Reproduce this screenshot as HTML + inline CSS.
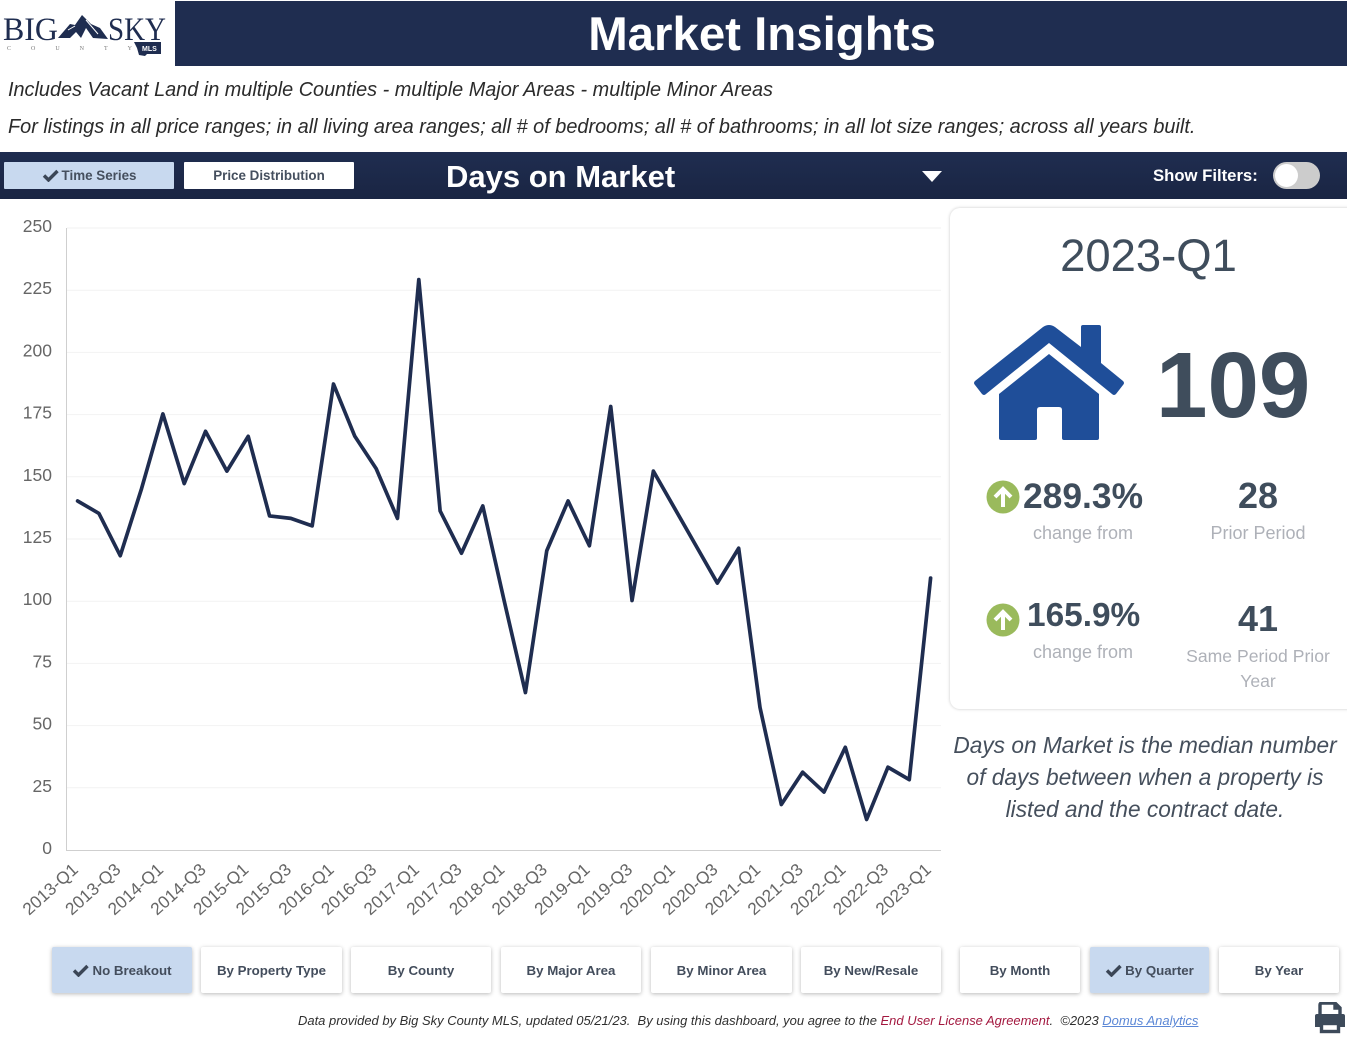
<!DOCTYPE html>
<html lang="en">
<head>
<meta charset="utf-8">
<title>Market Insights</title>
<style>
html,body{margin:0;padding:0;background:#fff;}
body{width:1347px;height:1041px;position:relative;overflow:hidden;font-family:"Liberation Sans",sans-serif;}
.a{position:absolute;white-space:nowrap;}
.btn{position:absolute;top:947px;height:46px;background:#fff;box-shadow:0 1px 4px rgba(0,0,0,.28);border-radius:2px;color:#434d5c;font-size:13.3px;font-weight:bold;line-height:47px;text-align:center;white-space:nowrap;}
.btn.on{background:#c8d9ef;}
.tab{position:absolute;top:162px;height:27px;border-radius:1px;color:#454f5e;font-size:13.4px;font-weight:bold;line-height:28px;text-align:center;}
.c{text-align:center;}
.chk{display:inline-block;vertical-align:-2px;margin-right:3px;}
</style>
</head>
<body>

<div class="a" style="left:175px;top:1px;width:1172px;height:65px;background:#1f2d50;"></div>
<div class="a c" style="left:175px;top:6px;width:1174px;color:#fff;font-size:47.4px;font-weight:bold;line-height:58px;">Market Insights</div>

<svg class="a" style="left:0;top:0" width="175" height="66" viewBox="0 0 175 66">
  <text x="3" y="40" font-family="Liberation Serif" font-size="33" fill="#1f2d50" textLength="55" lengthAdjust="spacingAndGlyphs">BIG</text>
  <text x="108" y="40" font-family="Liberation Serif" font-size="33" fill="#1f2d50" textLength="58" lengthAdjust="spacingAndGlyphs">SKY</text>
  <polygon points="58,38 70,24 75,25 82,15 91,24 100,28 108,39 93,38 86,28 81,38 76,32 70,38" fill="#1f2d50"/>
  <path d="M86,20L98,34M68,30L75,26" stroke="#fff" stroke-width="1" fill="none"/>
  <text x="7" y="50" font-family="Liberation Serif" font-size="6" fill="#777" letter-spacing="20">COUNTY</text>
  <polygon points="134,42 161,42 161,54 147,54 145,56 139,55 137,48" fill="#1f2d50"/>
  <text x="142" y="51" font-family="Liberation Sans" font-size="7" font-weight="bold" fill="#fff">MLS</text>
</svg>

<div class="a" style="left:8px;top:77px;font-size:19.88px;font-style:italic;color:#2b2b2b;line-height:26px;">Includes Vacant Land in multiple Counties - multiple Major Areas - multiple Minor Areas</div>
<div class="a" style="left:8px;top:114px;font-size:19.9px;font-style:italic;color:#2b2b2b;line-height:26px;">For listings in all price ranges; in all living area ranges; all # of bedrooms; all # of bathrooms; in all lot size ranges; across all years built.</div>

<div class="a" style="left:0;top:152px;width:1347px;height:47px;background:linear-gradient(#1f2d50,#1a2543);"></div>
<div class="tab" style="left:4px;width:170px;background:#c8d9ef;"><svg class="chk" width="17" height="13" viewBox="0 0 17 13"><path d="M2 6.5L6.5 11L15.5 2" fill="none" stroke="#3b4656" stroke-width="3.4"/></svg>Time Series</div>
<div class="tab" style="left:184px;width:170px;background:#fff;">Price Distribution</div>
<div class="a" style="left:446px;top:158px;color:#fff;font-size:31px;font-weight:bold;line-height:38px;">Days on Market</div>
<svg class="a" style="left:922px;top:171px" width="20" height="12"><polygon points="0,0 20,0 10,11" fill="#fff"/></svg>
<div class="a" style="left:1153px;top:165px;color:#fff;font-size:16.7px;font-weight:bold;line-height:22px;">Show Filters:</div>
<div class="a" style="left:1273px;top:162px;width:47px;height:27px;border-radius:14px;background:#ccc;">
  <div style="position:absolute;left:2px;top:2px;width:23px;height:23px;border-radius:50%;background:#fff;"></div>
</div>

<svg class="a" id="chart" style="left:0;top:200px" width="950" height="730"></svg>

<div class="a" style="left:950px;top:208px;width:420px;height:501px;background:#fff;border-radius:10px;box-shadow:0 0 3px rgba(0,0,0,.22);"></div>
<div class="a c" style="left:950px;top:228px;width:397px;color:#3f4d5c;font-size:45.4px;line-height:56px;">2023-Q1</div>
<svg class="a" style="left:970px;top:320px" width="160" height="125" viewBox="970 320 160 125">
  <path d="M975 381 L1043 327 Q1049 323 1055 327 L1081 347 L1081 327 Q1081 325 1083 325 L1099 325 Q1101 325 1101 327 L1101 363 L1123 381 Q1125 383 1123 385 L1116 394 Q1114 396 1112 394 L1049 343 L986 394 Q984 396 982 394 L975 385 Q973 383 975 381Z" fill="#1f4e99"/>
  <path d="M1049 354 L1099 394 L1099 438 Q1099 440 1097 440 L1064 440 Q1062 440 1062 438 L1062 410 Q1062 407 1059 407 L1040 407 Q1037 407 1037 410 L1037 438 Q1037 440 1035 440 L1001 440 Q999 440 999 438 L999 394Z" fill="#1f4e99"/>
</svg>
<div class="a" style="left:1156px;top:335px;color:#3f4d5c;font-size:92.5px;font-weight:bold;line-height:100px;">109</div>

<svg class="a" style="left:986px;top:480px" width="34" height="34" viewBox="0 0 34 34"><circle cx="17" cy="17" r="16.5" fill="#9aba5c"/><path d="M17 27V10M9 17L17 9L25 17" stroke="#fff" stroke-width="4" fill="none"/></svg>
<div class="a" style="left:1023px;top:475px;color:#3f4d5c;font-size:35.4px;font-weight:bold;line-height:42px;">289.3%</div>
<div class="a c" style="left:1003px;top:522px;width:160px;color:#aeb1b8;font-size:18px;line-height:22px;">change from</div>
<div class="a c" style="left:1178px;top:475px;width:160px;color:#3f4d5c;font-size:36px;font-weight:bold;line-height:42px;">28</div>
<div class="a c" style="left:1178px;top:522px;width:160px;color:#aeb1b8;font-size:18px;line-height:22px;">Prior Period</div>

<svg class="a" style="left:986px;top:603px" width="34" height="34" viewBox="0 0 34 34"><circle cx="17" cy="17" r="16.5" fill="#9aba5c"/><path d="M17 27V10M9 17L17 9L25 17" stroke="#fff" stroke-width="4" fill="none"/></svg>
<div class="a" style="left:1027px;top:595px;color:#3f4d5c;font-size:33.4px;font-weight:bold;line-height:42px;">165.9%</div>
<div class="a c" style="left:1003px;top:641px;width:160px;color:#aeb1b8;font-size:18px;line-height:22px;">change from</div>
<div class="a c" style="left:1178px;top:598px;width:160px;color:#3f4d5c;font-size:36px;font-weight:bold;line-height:42px;">41</div>
<div class="a c" style="left:1178px;top:644px;width:160px;color:#aeb1b8;font-size:17.6px;line-height:25px;white-space:normal;">Same Period Prior<br>Year</div>

<div class="a c" style="left:945px;top:729px;width:400px;color:#454f5c;font-size:22.7px;font-style:italic;line-height:32px;">Days on Market is the median number<br>of days between when a property is<br>listed and the contract date.</div>

<div class="btn on" style="left:52px;width:140px;"><svg class="chk" width="17" height="13" viewBox="0 0 17 13"><path d="M2 6.5L6.5 11L15.5 2" fill="none" stroke="#3b4656" stroke-width="3.4"/></svg>No Breakout</div>
<div class="btn" style="left:201px;width:141px;">By Property Type</div>
<div class="btn" style="left:351px;width:140px;">By County</div>
<div class="btn" style="left:501px;width:140px;">By Major Area</div>
<div class="btn" style="left:651px;width:141px;">By Minor Area</div>
<div class="btn" style="left:801px;width:140px;">By New/Resale</div>
<div class="btn" style="left:960px;width:120px;">By Month</div>
<div class="btn on" style="left:1090px;width:119px;"><svg class="chk" width="17" height="13" viewBox="0 0 17 13"><path d="M2 6.5L6.5 11L15.5 2" fill="none" stroke="#3b4656" stroke-width="3.4"/></svg>By Quarter</div>
<div class="btn" style="left:1219px;width:120px;">By Year</div>

<div class="a" style="left:298px;top:1013px;color:#2f2f2f;font-size:12.97px;font-style:italic;line-height:16px;">Data provided by Big Sky County MLS, updated 05/21/23.&nbsp; By using this dashboard, you agree to the <span style="color:#a3183f;">End User License Agreement</span>.&nbsp; &copy;2023 <span style="color:#5b87d6;text-decoration:underline;">Domus Analytics</span></div>

<svg class="a" style="left:1314px;top:1002px" width="32" height="32" viewBox="0 0 32 32">
  <path d="M6 13V3Q6 1 8 1H21L26 6V13M26 6H21V1" fill="none" stroke="#3d4a5a" stroke-width="3.4"/>
  <path d="M3 12H29Q31 12 31 14V25H26V20H6V25H1V14Q1 12 3 12Z" fill="#3d4a5a"/>
  <rect x="7.5" y="21.5" width="17" height="8" fill="none" stroke="#3d4a5a" stroke-width="3.4"/>
</svg>

<script>
const categories = ["2013-Q1","2013-Q2","2013-Q3","2013-Q4","2014-Q1","2014-Q2","2014-Q3","2014-Q4","2015-Q1","2015-Q2","2015-Q3","2015-Q4","2016-Q1","2016-Q2","2016-Q3","2016-Q4","2017-Q1","2017-Q2","2017-Q3","2017-Q4","2018-Q1","2018-Q2","2018-Q3","2018-Q4","2019-Q1","2019-Q2","2019-Q3","2019-Q4","2020-Q1","2020-Q2","2020-Q3","2020-Q4","2021-Q1","2021-Q2","2021-Q3","2021-Q4","2022-Q1","2022-Q2","2022-Q3","2022-Q4","2023-Q1"];
const daysOnMarket = [140,135,118,145,175,147,168,152,166,134,133,130,187,166,153,133,229,136,119,138,100,63,120,140,122,178,100,152,137,122,107,121,57,18,31,23,41,12,33,28,109];
const yTicks = [0,25,50,75,100,125,150,175,200,225,250];

const NS = "http://www.w3.org/2000/svg";
const chart = document.getElementById("chart");
const offsetY = 200;
function xAt(i){ return 77.6 + i * (930.6 - 77.6) / (categories.length - 1); }
function yAt(v){ return 850 - offsetY - v * (850 - 228) / 250; }
function make(tag, attrs, parent){
  const el = document.createElementNS(NS, tag);
  for (const k in attrs) el.setAttribute(k, attrs[k]);
  (parent || chart).appendChild(el);
  return el;
}
yTicks.forEach(function(t){
  if (t > 0) {
    const g = make("line", {x1:67, x2:941, y1:yAt(t), y2:yAt(t), stroke:"#f2f2f2", "stroke-width":1});
    
    
  }
  const l = make("text", {x:52, y:yAt(t) + 4, "text-anchor":"end", "font-size":17.5, fill:"#666", "font-family":"Liberation Sans"});
  l.textContent = t;
  
  
});
const yAxis = make("line", {x1:66.5, x2:66.5, y1:yAt(250), y2:yAt(0), stroke:"#cfcfcf", "stroke-width":1});


const xAxis = make("line", {x1:66, x2:941, y1:yAt(0) + .5, y2:yAt(0) + .5, stroke:"#cfcfcf", "stroke-width":1});


categories.forEach(function(c, i){
  if (i % 2) return;
  const x = xAt(i) + 1.5, y = yAt(0) + 21;
  const t = make("text", {x:x, y:y, "text-anchor":"end", "font-size":17.3, fill:"#666", "font-family":"Liberation Sans", transform:"rotate(-42 " + x + " " + y + ")"});
  t.textContent = c;
  
  
});
const line = make("polyline", {
  points: daysOnMarket.map(function(v, i){ return xAt(i) + "," + (yAt(v) - 0.7); }).join(" "),
  fill: "none", stroke: "#1f2d50", "stroke-width": 3.7, "stroke-linejoin": "round", "stroke-linecap": "round"
});


</script>
</body>
</html>
